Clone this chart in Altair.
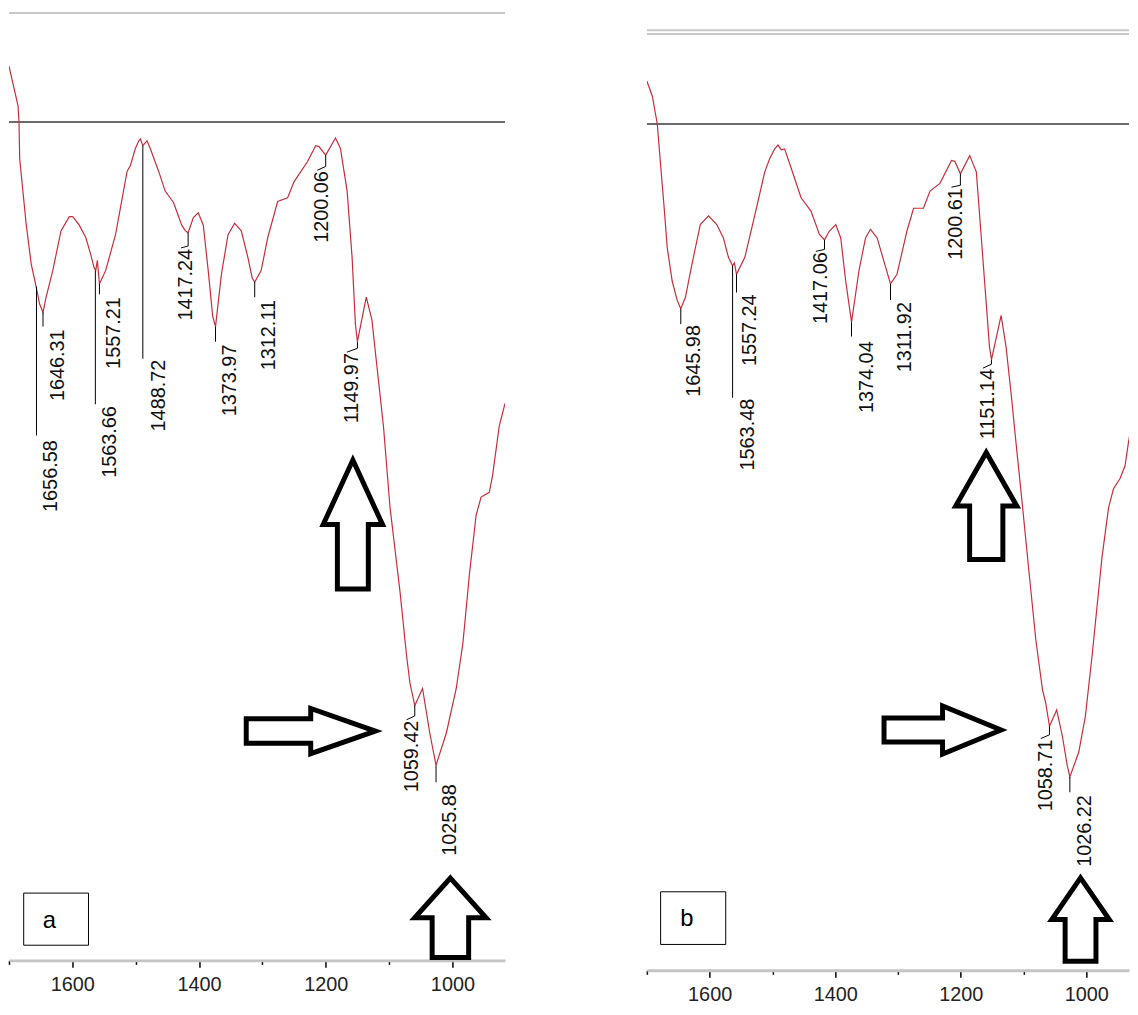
import altair as alt
import pandas as pd

# ---------------- spectrum a ----------------
a_wn = [1700, 1685.7, 1684.2, 1683.1, 1672.7, 1664.9, 1657.1, 1651.8, 1646.3, 1641.4,
        1630.9, 1617.9, 1604.8, 1599.5, 1589.1, 1578.8, 1570.9, 1565.6, 1563.1, 1560.5,
        1557.2, 1547.5, 1531.8, 1513.5, 1508.3, 1500.5, 1495.1, 1492.6, 1488.7, 1482.1,
        1477.0, 1463.8, 1453.5, 1440.3, 1427.3, 1421.5, 1417.2, 1409.0, 1401.2, 1393.3,
        1385.5, 1378.5, 1374.0, 1364.7, 1354.2, 1343.8, 1333.3, 1322.9, 1316.0, 1312.1,
        1302.0, 1291.5, 1275.9, 1260.2, 1249.9, 1228.9, 1215.9, 1210.7, 1200.1, 1184.6,
        1176.8, 1166.2, 1158.4, 1153.2, 1150.0, 1136.0, 1127.1, 1119.2, 1108.9, 1098.5,
        1082.9, 1072.3, 1067.1, 1059.4, 1047.2, 1035.8, 1025.9, 1009.6, 994.0, 983.6,
        973.1, 962.6, 954.8, 941.8, 936.6, 926.1, 917.0]
a_t = [94.4, 90.2, 88.5, 84.6, 77.6, 73.5, 71.1, 69.3, 68.4, 70.0,
       72.8, 77.0, 78.5, 78.5, 77.6, 76.3, 74.5, 73.1, 72.8, 73.9,
       71.4, 72.8, 76.6, 83.3, 83.9, 85.7, 86.5, 86.7, 86.0, 86.5,
       85.7, 83.3, 81.2, 80.0, 77.6, 77.0, 76.8, 78.4, 78.9, 77.6,
       72.8, 68.0, 66.9, 72.4, 76.6, 77.8, 77.0, 74.2, 72.0, 71.6,
       72.8, 76.3, 80.1, 80.5, 82.2, 84.3, 86.0, 85.9, 85.0, 86.8,
       85.7, 81.2, 74.2, 67.2, 65.3, 70.0, 67.6, 62.7, 56.4, 47.8,
       39.0, 32.1, 29.3, 26.9, 28.7, 24.0, 20.6, 24.0, 28.7, 33.4,
       40.8, 47.0, 48.9, 49.4, 51.2, 56.4, 58.8]

# ---------------- spectrum b ----------------
b_wn = [1700, 1691.3, 1683.4, 1678.1, 1672.9, 1667.6, 1659.7, 1651.8, 1646.0, 1638.6,
        1628.1, 1614.9, 1601.8, 1588.7, 1578.1, 1570.2, 1563.5, 1560.6, 1557.2, 1543.8,
        1528.0, 1512.2, 1504.3, 1496.4, 1491.2, 1486.0, 1480.6, 1470.2, 1454.4, 1438.6,
        1425.3, 1417.1, 1409.5, 1399.1, 1391.2, 1383.3, 1374.0, 1362.1, 1351.7, 1343.8,
        1333.2, 1322.6, 1311.9, 1301.6, 1285.8, 1275.2, 1259.4, 1249.0, 1233.2, 1214.7,
        1209.5, 1200.6, 1185.8, 1175.2, 1170.0, 1162.1, 1154.2, 1151.1, 1135.7, 1127.8,
        1119.9, 1112.0, 1101.4, 1091.0, 1080.4, 1069.8, 1064.6, 1058.7, 1047.2, 1038.3,
        1030.4, 1026.2, 1012.0, 1001.6, 990.9, 975.1, 964.6, 956.7, 946.1, 938.3,
        933.0, 925.6]
b_t = [92.9, 91.3, 88.4, 84.1, 80.0, 75.5, 72.0, 70.0, 69.1, 70.3,
       73.8, 77.9, 78.8, 77.9, 76.5, 74.5, 73.6, 73.9, 72.7, 74.5,
       78.9, 83.4, 84.8, 85.8, 86.2, 85.7, 85.8, 83.8, 80.7, 79.3,
       76.9, 76.3, 77.2, 77.9, 76.5, 72.0, 67.7, 73.1, 76.5, 77.4,
       76.5, 74.1, 71.7, 72.7, 77.2, 79.6, 79.6, 81.4, 82.2, 84.6,
       84.5, 83.2, 85.1, 83.4, 78.9, 72.0, 65.1, 63.8, 68.4, 65.1,
       60.3, 55.1, 48.3, 41.4, 34.5, 29.3, 27.9, 25.5, 27.2, 24.5,
       21.4, 20.2, 22.8, 26.5, 32.8, 43.1, 48.3, 50.3, 51.4, 52.7,
       55.1, 57.9]

# ---------------- peak labels ----------------
a_labels = ["1656.58", "1646.31", "1563.66", "1557.21", "1488.72", "1417.24",
            "1373.97", "1312.11", "1200.06", "1149.97", "1059.42", "1025.88"]
a_lead_start = [71.1, 68.4, 72.8, 71.4, 86.0, 76.8, 66.9, 71.6, 85.0, 65.3, 26.9, 20.6]
a_lead_end = [55.4, 66.9, 58.7, 70.3, 63.5, 75.4, 65.3, 70.0, 83.8, 64.6, 25.8, 18.8]
a_text_wn = [1633.6, 1623.1, 1540.1, 1534.3, 1463.8, 1420.6, 1351.7, 1289.0, 1205.4, 1158.4, 1064.4, 1004.1]
a_text_top = [54.9, 66.6, 58.5, 70.0, 63.4, 75.1, 65.0, 69.7, 83.3, 64.1, 25.3, 18.6]
a_hook = [False, False, False, False, False, True, False, False, True, True, True, False]

b_labels = ["1645.98", "1563.48", "1557.24", "1417.06", "1374.04", "1311.92",
            "1200.61", "1151.14", "1058.71", "1026.22"]
b_lead_start = [69.1, 73.6, 72.7, 76.3, 67.7, 71.7, 83.2, 63.8, 25.5, 20.2]
b_lead_end = [67.5, 59.8, 70.8, 75.3, 66.2, 70.0, 82.0, 63.3, 24.6, 18.6]
b_text_wn = [1625.5, 1538.6, 1535.9, 1422.8, 1349.0, 1288.5, 1206.8, 1156.7, 1064.6, 1001.4]
b_text_top = [67.4, 59.7, 70.6, 75.0, 65.7, 69.8, 81.7, 62.8, 24.1, 18.3]
b_hook = [False, False, False, True, False, False, True, True, True, False]

# ---------------- arrows (centre wn, centre T, half length px, head ratio, shaft ratio, angle) ----
a_arrow_wn = [1157.2, 1223.7, 1003.2]
a_arrow_t = [46.0, 24.2, 4.5]
a_arrow_half = [65, 65, 40]
a_arrow_head = [0.46, 0.35, 0.90]
a_arrow_shaft = [0.24, 0.19, 0.46]
a_arrow_angle = [0, 90, 0]

b_arrow_wn = [1159.4, 1229.0, 1009.2]
b_arrow_t = [48.5, 25.1, 5.3]
b_arrow_half = [54, 59, 42]
b_arrow_head = [0.57, 0.41, 0.69]
b_arrow_shaft = [0.31, 0.205, 0.37]
b_arrow_angle = [0, 90, 0]

# ---------------- panel tags ----------------
a_box = {"text": "a", "x0": 1676.8, "x1": 1574.5, "y0": 7.1, "y1": 1.6, "tx": 1636.1, "ty": 4.2}
b_box = {"text": "b", "x0": 1678.1, "x1": 1574.4, "y0": 8.2, "y1": 2.7, "tx": 1636.1, "ty": 5.3}

tick_values = [1700, 1650, 1600, 1550, 1500, 1450, 1400, 1350, 1300, 1250, 1200, 1150, 1100, 1050, 1000, 950]

RED = "#c62d3a"
FONT = "Liberation Sans"


def arrow_path(h, s):
    return (f"M0,-1L{h},0L{s},0L{s},1L{-s},1L{-s},0L{-h},0Z")


def panel(wn, t, labels, lstart, lend, twn, ttop, hook, aw, at, ahalf, ahead, ashaft, aang,
          box, domain, width, height, top_lines, base_line):
    xs = alt.Scale(domain=domain, nice=False, zero=False)
    ys = alt.Scale(domain=[0, 100], nice=False, zero=False)
    axis = alt.Axis(values=tick_values, format="d",
                    labelExpr="datum.value % 200 === 0 ? datum.label : ''",
                    tickSize={"condition": {"test": "datum.value % 200 === 0", "value": 7}, "value": 4},
                    domainColor="#c4c4c4", domainWidth=3, tickColor="black", tickWidth=1.5,
                    labelFont=FONT, labelFontSize=20, labelColor="#222", labelPadding=7,
                    title=None, grid=False, labelFlush=False, labelOverlap=False)

    spec = pd.DataFrame({"wn": wn, "T": t})
    line = alt.Chart(spec).mark_line(color=RED, strokeWidth=1.2, clip=True).encode(
        x=alt.X("wn:Q", scale=xs, axis=axis),
        y=alt.Y("T:Q", scale=ys, axis=None),
    )

    tops = alt.Chart(pd.DataFrame({"T": top_lines})).mark_rule(color="#c8c8c8", strokeWidth=2).encode(
        y=alt.Y("T:Q", scale=ys, axis=None))
    base = alt.Chart(pd.DataFrame({"T": [base_line]})).mark_rule(color="#3a3a3a", strokeWidth=1.5).encode(
        y=alt.Y("T:Q", scale=ys, axis=None))

    segs = []
    for lab, s0, e0, tx, tt, hk in zip(labels, lstart, lend, twn, ttop, hook):
        w = float(lab)
        segs.append({"x": w, "x2": w, "y": s0, "y2": e0})
        if hk:
            segs.append({"x": w, "x2": tx + 8, "y": e0, "y2": tt + 0.1})
    lead = alt.Chart(pd.DataFrame(segs)).mark_rule(color="black", strokeWidth=1).encode(
        x=alt.X("x:Q", scale=xs), x2="x2:Q", y=alt.Y("y:Q", scale=ys), y2="y2:Q")

    ltab = pd.DataFrame({"label": labels, "x": twn, "y": ttop})
    text = alt.Chart(ltab).mark_text(angle=270, align="right", baseline="middle", font=FONT,
                                     fontSize=20, color="#111").encode(
        x=alt.X("x:Q", scale=xs), y=alt.Y("y:Q", scale=ys), text="label:N")

    arr = pd.DataFrame({
        "x": aw, "y": at,
        "path": [arrow_path(h, s) for h, s in zip(ahead, ashaft)],
        "size": [(2 * hf) ** 2 for hf in ahalf],
        "angle": aang,
    })
    arrows = alt.Chart(arr).mark_point(filled=True, fill="white", stroke="black", strokeWidth=5,
                                       opacity=1, fillOpacity=1, strokeOpacity=1,
                                       strokeJoin="miter").encode(
        x=alt.X("x:Q", scale=xs), y=alt.Y("y:Q", scale=ys),
        shape=alt.Shape("path:N", scale=None),
        size=alt.Size("size:Q", scale=None),
        angle=alt.Angle("angle:Q", scale=None),
    )

    bdf = pd.DataFrame([box])
    rect = alt.Chart(bdf).mark_rect(fill="white", stroke="black", strokeWidth=1).encode(
        x=alt.X("x0:Q", scale=xs), x2="x1:Q", y=alt.Y("y0:Q", scale=ys), y2="y1:Q")
    btxt = alt.Chart(bdf).mark_text(font=FONT, fontSize=24, color="black", align="center",
                                    baseline="middle").encode(
        x=alt.X("tx:Q", scale=xs), y=alt.Y("ty:Q", scale=ys), text="text:N")

    return alt.layer(tops, base, line, lead, text, arrows, rect, btxt).properties(
        width=width, height=height)


pa = panel(a_wn, a_t, a_labels, a_lead_start, a_lead_end, a_text_wn, a_text_top, a_hook,
           a_arrow_wn, a_arrow_t, a_arrow_half, a_arrow_head, a_arrow_shaft, a_arrow_angle,
           a_box, [1700, 917], 500, 955, [100], 88.5)
pb = panel(b_wn, b_t, b_labels, b_lead_start, b_lead_end, b_text_wn, b_text_top, b_hook,
           b_arrow_wn, b_arrow_t, b_arrow_half, b_arrow_head, b_arrow_shaft, b_arrow_angle,
           b_box, [1700, 932], 486, 965, [98.2, 97.8], 88.4)

chart = alt.hconcat(pa, pb, spacing=141).properties(
    padding={"left": 0, "top": 0, "right": 0, "bottom": 0},
    background="white",
).configure_view(strokeWidth=0, stroke="transparent")

chart.save("out.html", embed_options={"renderer": "svg", "actions": False})
